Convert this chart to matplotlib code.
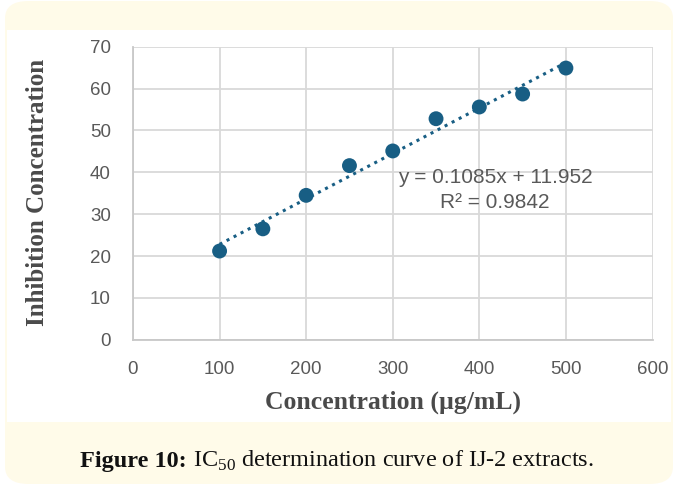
import matplotlib
matplotlib.use("Agg")
import matplotlib.pyplot as plt
from matplotlib.patches import FancyBboxPatch, Rectangle

# Inhibition data for IJ-2 extracts
concentration = [100, 150, 200, 250, 300, 350, 400, 450, 500]
inhibition = [21.2, 26.5, 34.5, 41.6, 45.1, 52.8, 55.6, 58.7, 64.9]

# Linear trendline reported for the series
slope = 0.1085
intercept = 11.952
r_squared = 0.9842

x_ticks = [0, 100, 200, 300, 400, 500, 600]
y_ticks = [0, 10, 20, 30, 40, 50, 60, 70]

W, H = 674, 493
fig = plt.figure(figsize=(W / 100, H / 100), dpi=100)
fig.patch.set_facecolor("white")

cream = "#FFFBE9"
# Rounded card behind everything
card = FancyBboxPatch((5 / W, 9 / H), (668 / W), (483 / H),
                      boxstyle="round,pad=0,rounding_size=0.035",
                      transform=fig.transFigure, facecolor=cream,
                      edgecolor="none", zorder=0)
fig.patches.append(card)
# White panel holding the chart
panel = Rectangle((7 / W, 1 - 422 / H), (664 / W), (392 / H),
                  transform=fig.transFigure, facecolor="white",
                  edgecolor="none", zorder=0.5)
fig.patches.append(panel)

left, right = 133 / W, 652.5 / W
top, bottom = 1 - 46.7 / H, 1 - 339.8 / H
ax = fig.add_axes([left, bottom, right - left, top - bottom])
ax.set_facecolor("none")
ax.set_zorder(2)

marker_color = "#185E84"
ax.scatter(concentration, inhibition, s=115, color=marker_color, zorder=3,
           edgecolors="none")
xs = [concentration[0], concentration[-1]]
ys = [slope * x + intercept for x in xs]
ax.plot(xs, ys, linestyle=(0, (1, 1.6)), color=marker_color, linewidth=2.2,
        zorder=2.5)

ax.set_xlim(0, 600)
ax.set_ylim(0, 70)
ax.set_xticks(x_ticks)
ax.set_yticks(y_ticks)
ax.grid(True, color="#D9D9D9", linewidth=1.3)
ax.set_axisbelow(True)
for side in ["top", "right"]:
    ax.spines[side].set_visible(False)
for side in ["left", "bottom"]:
    ax.spines[side].set_color("#C8C8C8")
    ax.spines[side].set_linewidth(1.3)
ax.tick_params(length=0, labelsize=13.5, labelcolor="#595959")
ax.tick_params(axis="y", pad=16)
ax.tick_params(axis="x", pad=15)
for lbl in ax.get_xticklabels() + ax.get_yticklabels():
    lbl.set_fontfamily("Liberation Sans")

fig.text(393 / W, 1 - 402 / H, "Concentration (µg/mL)",
         fontfamily="Liberation Serif", fontweight="bold", fontsize=18.5,
         color="#4A4A4A", ha="center", va="center")
fig.text(38 / W, 1 - 192 / H, "Inhibition Concentration",
         fontfamily="Liberation Serif", fontweight="bold", fontsize=18,
         color="#4A4A4A", ha="center", va="center", rotation=90)

fig.text(495 / W, 1 - 177 / H, f"y = {slope}x + {intercept}",
         fontfamily="Liberation Sans", fontsize=15, color="#595959",
         ha="center", va="center")
fig.text(495 / W, 1 - 203 / H, f"R² = {r_squared}",
         fontfamily="Liberation Sans", fontsize=15, color="#595959",
         ha="center", va="center")

# Caption assembled from pieces so the bold prefix and subscript line up
plt.rcParams["mathtext.fontset"] = "custom"
plt.rcParams["mathtext.rm"] = "Liberation Serif"
caption_parts = [
    ("Figure 10:", "bold"),
    (" IC$_{50}$ determination curve of IJ-2 extracts.", "normal"),
]
renderer = fig.canvas.get_renderer()
texts = []
for s, weight in caption_parts:
    t = fig.text(0, 1 - 467 / H, s, fontfamily="Liberation Serif",
                 fontweight=weight, fontsize=17.5, color="#111111",
                 ha="left", va="baseline")
    texts.append(t)
widths = [t.get_window_extent(renderer).width for t in texts]
total = sum(widths)
x0 = (W / 2 - total / 2)
for t, w in zip(texts, widths):
    t.set_x(x0 / W)
    x0 += w

fig.savefig("out.png", dpi=100)
